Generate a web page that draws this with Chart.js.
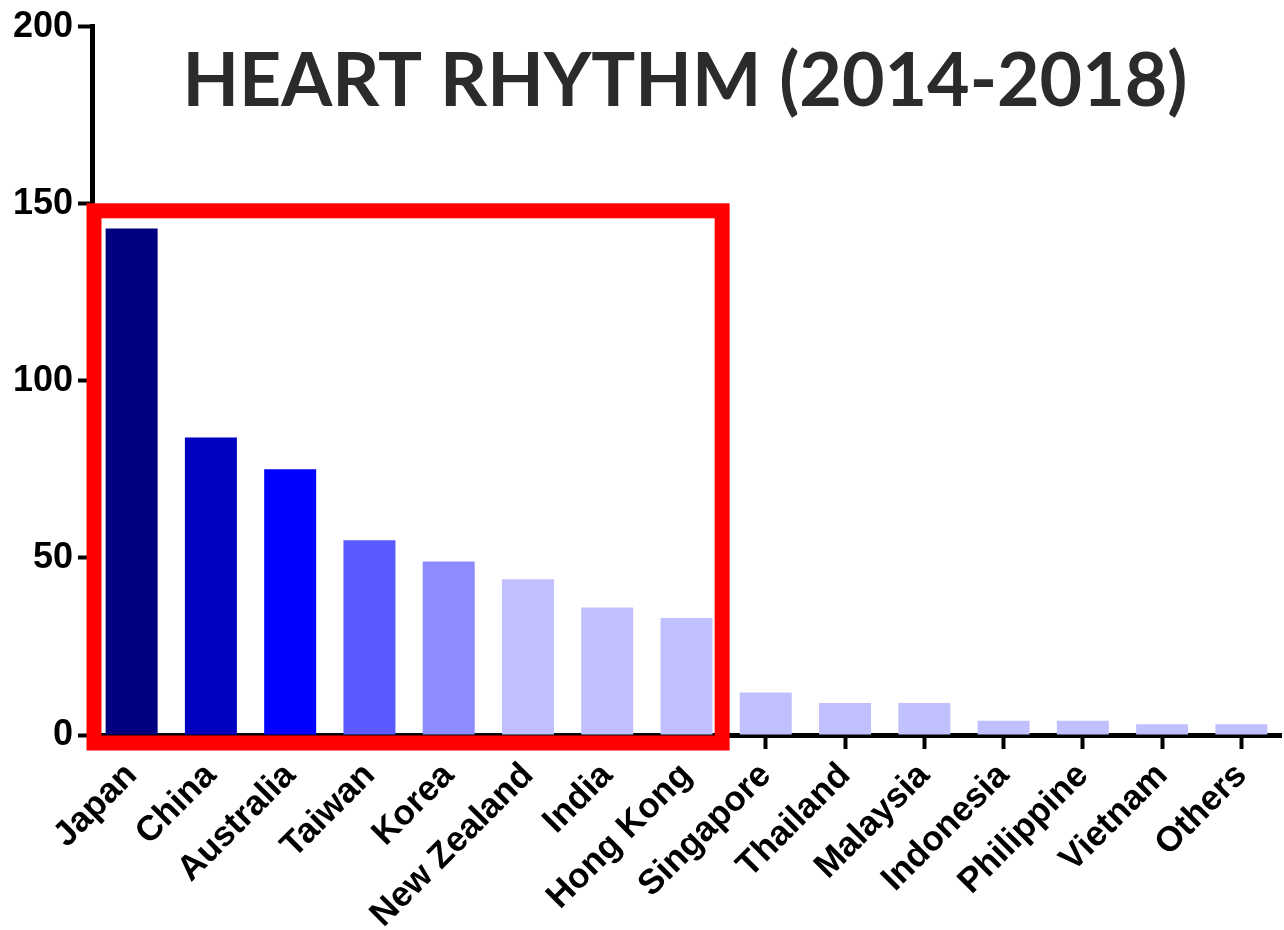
<!DOCTYPE html>
<html>
<head>
<meta charset="utf-8">
<style>
  html, body { margin: 0; padding: 0; background: #ffffff; }
  #c { display: block; }
</style>
<script src="https://cdn.jsdelivr.net/npm/chart.js@4/dist/chart.umd.min.js"></script>
</head>
<body>
<canvas id="c" width="1284" height="930"></canvas>
<script>
const titleText = "HEART RHYTHM (2014-2018)";
const categories = ["Japan", "China", "Australia", "Taiwan", "Korea", "New Zealand", "India", "Hong Kong",
  "Singapore", "Thailand", "Malaysia", "Indonesia", "Philippine", "Vietnam", "Others"];
const counts = [143, 84, 75, 55, 49, 44, 36, 33, 12, 9, 9, 4, 4, 3, 3];
const barColors = ["#000080", "#0000C0", "#0000FF", "#5A5AFF", "#8C8CFF", "#C0C0FF", "#C0C0FF", "#C0C0FF",
  "#C0C0FF", "#C0C0FF", "#C0C0FF", "#C0C0FF", "#C0C0FF", "#C0C0FF", "#C0C0FF"];
const yTicks = [0, 50, 100, 150, 200];
const highlightFirst = 0;      // first highlighted category index
const highlightLast = 7;       // last highlighted category index
const highlightTopValue = 148;

const overlayPlugin = {
  id: 'overlay',
  afterDraw(chart) {
    const ctx = chart.ctx;
    const x = chart.scales.x, y = chart.scales.y;
    // red highlight box
    const left = x.getPixelForValue(highlightFirst) - (x.getPixelForValue(1) - x.getPixelForValue(0)) / 2 + 2;
    const right = (x.getPixelForValue(highlightLast) + x.getPixelForValue(highlightLast + 1)) / 2 - 4;
    const top = y.getPixelForValue(highlightTopValue);
    const bottom = y.getPixelForValue(0) + 8;
    ctx.save();
    ctx.strokeStyle = '#FF0000';
    ctx.lineWidth = 15;
    ctx.lineJoin = 'miter';
    ctx.strokeRect(left, top, right - left, bottom - top);
    ctx.restore();

    // title
    ctx.save();
    ctx.font = 'bold 74px Lato, "Open Sans", sans-serif';
    ctx.fillStyle = '#2b2b2b';
    ctx.textBaseline = 'alphabetic';
    ctx.textAlign = 'left';
    const targetW = 1005;
    const w = ctx.measureText(titleText).width;
    const sx = targetW / w;
    const cx = 685;
    ctx.translate(cx - targetW / 2, 106);
    ctx.scale(sx, 1);
    ctx.fillText(titleText, 0, 0);
    ctx.restore();
  }
};

new Chart(document.getElementById('c'), {
  type: 'bar',
  data: {
    labels: categories,
    datasets: [{
      data: counts,
      backgroundColor: barColors,
      borderWidth: 0,
      barPercentage: 0.656,
      categoryPercentage: 1.0
    }]
  },
  options: {
    responsive: false,
    animation: false,
    devicePixelRatio: 1,
    layout: { padding: { top: 22, right: 3, left: 0, bottom: 0 } },
    plugins: {
      legend: { display: false },
      title: { display: false },
      tooltip: { enabled: false }
    },
    scales: {
      x: {
        offset: true,
        grid: {
          display: true,
          offset: false,
          drawOnChartArea: false,
          drawTicks: true,
          tickLength: 14,
          tickWidth: 4,
          tickColor: '#000000'
        },
        border: { display: true, color: '#000000', width: 5 },
        ticks: {
          autoSkip: false,
          maxRotation: 45,
          minRotation: 45,
          padding: 6,
          color: '#000000',
          font: { family: '"Liberation Sans", Arial, sans-serif', size: 35, weight: 'bold' }
        },
        afterFit(scale) { scale.height = 195; }
      },
      y: {
        min: 0,
        max: 200,
        afterBuildTicks(scale) { scale.ticks = yTicks.map(v => ({ value: v })); },
        grid: {
          display: true,
          drawOnChartArea: false,
          drawTicks: true,
          tickLength: 14,
          tickWidth: 4,
          tickColor: '#000000'
        },
        border: { display: true, color: '#000000', width: 5 },
        ticks: {
          padding: 5,
          color: '#000000',
          font: { family: '"Liberation Sans", Arial, sans-serif', size: 36, weight: 'bold' }
        },
        afterFit(scale) { scale.width = 92; }
      }
    }
  },
  plugins: [overlayPlugin]
});
</script>
</body>
</html>
